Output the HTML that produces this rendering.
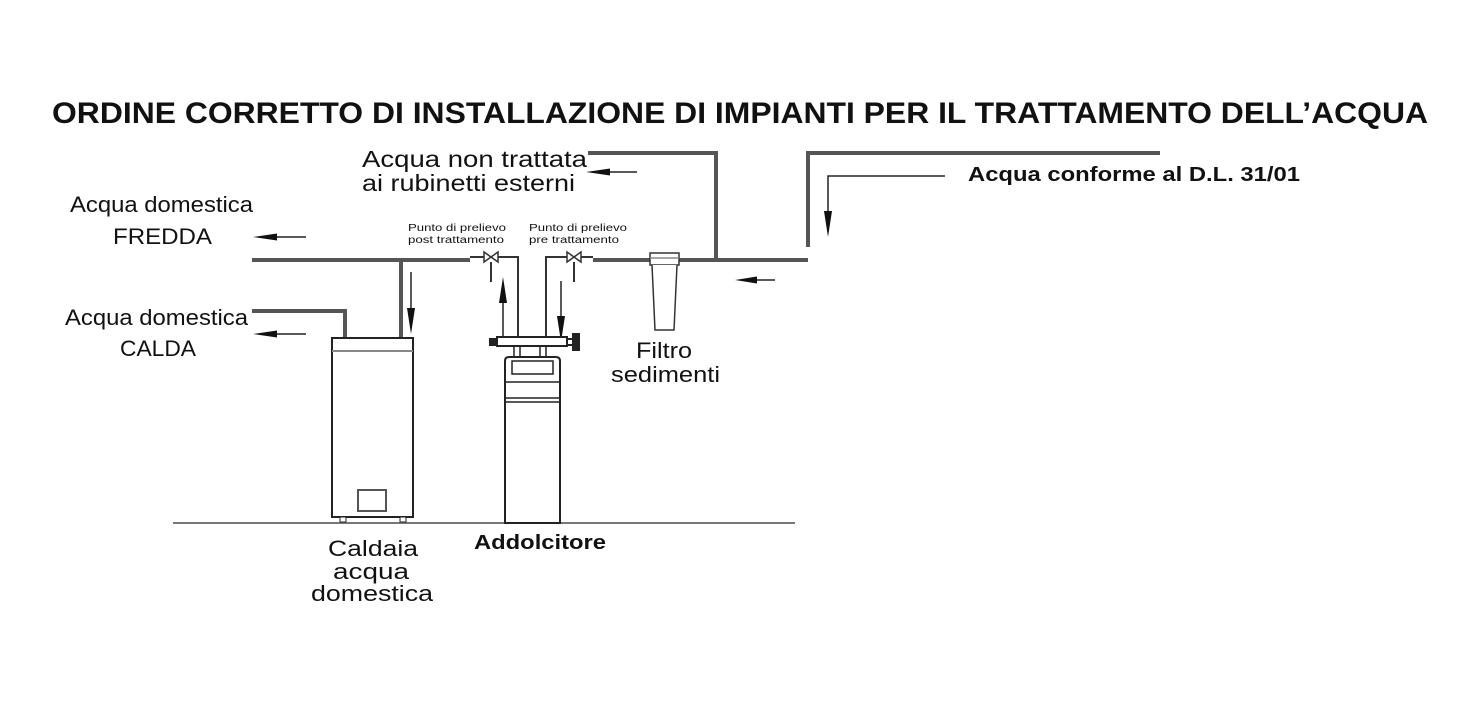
<!DOCTYPE html>
<html><head><meta charset="utf-8"><style>
html,body{margin:0;padding:0;background:#fff}
svg{display:block}
text{font-family:"Liberation Sans",Arial,sans-serif;fill:#111}
</style></head><body>
<svg width="1484" height="723" viewBox="0 0 1484 723" xmlns="http://www.w3.org/2000/svg">
<text x="740" y="123" font-size="30" font-weight="bold" text-anchor="middle" textLength="1376" lengthAdjust="spacingAndGlyphs">ORDINE CORRETTO DI INSTALLAZIONE DI IMPIANTI PER IL TRATTAMENTO DELL’ACQUA</text>

<!-- pipes -->
<g stroke="#555" stroke-width="4" fill="none">
<path d="M252 260 H470"/>
<path d="M593 260 H808"/>
<path d="M808 247 V153 H1160"/>
<path d="M716 260 V153 H588"/>
<path d="M252 311 H345 V338"/>
<path d="M401 260 V338"/>
</g>
<g stroke="#333" stroke-width="2" fill="none">
<path d="M470 257 H518 V338"/>
<path d="M593 257 H546 V338"/>
<path d="M491 262 V282"/>
<path d="M574 262 V282"/>
</g>
<!-- valves -->
<g stroke="#333" stroke-width="1.5" fill="#fff">
<path d="M484 252 L498 262 L498 252 L484 262 z"/>
<path d="M567 252 L581 262 L581 252 L567 262 z"/>
</g>

<!-- arrows -->
<g stroke="#222" stroke-width="1.5" fill="none">
<line x1="306" y1="237" x2="270" y2="237"/>
<line x1="306" y1="334" x2="270" y2="334"/>
<line x1="637" y1="172" x2="600" y2="172"/>
<line x1="775" y1="280" x2="750" y2="280"/>
<line x1="411" y1="272" x2="411" y2="312"/>
<line x1="503" y1="338" x2="503" y2="298"/>
<line x1="561" y1="281" x2="561" y2="320"/>
<path d="M945 176 H828 V215"/>
</g>
<g fill="#111">
<polygon points="253,237 277,233.5 277,240.5"/>
<polygon points="253,334 277,330.5 277,337.5"/>
<polygon points="586,172 610,168.5 610,175.5"/>
<polygon points="735,280 757,276.5 757,283.5"/>
<polygon points="411,334 407,308 415,308"/>
<polygon points="503,277 499,303 507,303"/>
<polygon points="561,342 557,316 565,316"/>
<polygon points="828,237 824,211 832,211"/>
</g>

<!-- floor -->
<line x1="173" y1="523" x2="795" y2="523" stroke="#777" stroke-width="2"/>

<!-- boiler -->
<g stroke="#222" stroke-width="2" fill="#fff">
<rect x="332" y="338" width="81" height="179"/>
<line x1="332" y1="351" x2="413" y2="351" stroke="#888"/>
<rect x="358" y="490" width="28" height="21" stroke="#555"/>
<rect x="340" y="517" width="6" height="5" stroke-width="1"/>
<rect x="400" y="517" width="6" height="5" stroke-width="1"/>
</g>

<!-- softener -->
<g stroke="#222" stroke-width="2" fill="#fff">
<rect x="514" y="345" width="6" height="12" stroke-width="1.5"/>
<rect x="540" y="345" width="6" height="12" stroke-width="1.5"/>
<rect x="497" y="337" width="70" height="9"/>
<rect x="490" y="339" width="7" height="6" fill="#222"/>
<rect x="567" y="339" width="6" height="6"/>
<rect x="573" y="334" width="6" height="16" fill="#222"/>
<path d="M505 523 V361 Q505 357 509 357 H556 Q560 357 560 361 V523 Z"/>
<rect x="512" y="361" width="41" height="13" stroke-width="1.5"/>
<line x1="505" y1="382" x2="560" y2="382" stroke-width="1.5"/>
<line x1="505" y1="398" x2="560" y2="398" stroke-width="1.5"/>
<line x1="505" y1="402" x2="560" y2="402" stroke-width="1.5"/>
</g>

<!-- filter -->
<g stroke="#333" stroke-width="1.5" fill="#fff">
<rect x="650" y="253" width="29" height="12"/>
<line x1="650" y1="258" x2="679" y2="258" stroke="#888"/>
<path d="M652 265 L655 330 H674 L677 265"/>
</g>

<!-- labels -->
<g font-size="22">
<text x="70" y="212" textLength="183" lengthAdjust="spacingAndGlyphs">Acqua domestica</text>
<text x="113" y="244" textLength="99" lengthAdjust="spacingAndGlyphs">FREDDA</text>
<text x="65" y="325" textLength="183" lengthAdjust="spacingAndGlyphs">Acqua domestica</text>
<text x="120" y="356" textLength="76" lengthAdjust="spacingAndGlyphs">CALDA</text>
<text x="362" y="167" font-size="23" textLength="225" lengthAdjust="spacingAndGlyphs">Acqua non trattata</text>
<text x="362" y="191" font-size="23" textLength="213" lengthAdjust="spacingAndGlyphs">ai rubinetti esterni</text>
<text x="636" y="358" textLength="56" lengthAdjust="spacingAndGlyphs">Filtro</text>
<text x="611" y="382" textLength="109" lengthAdjust="spacingAndGlyphs">sedimenti</text>
<text x="328" y="556" textLength="90" lengthAdjust="spacingAndGlyphs">Caldaia</text>
<text x="333" y="579" textLength="76" lengthAdjust="spacingAndGlyphs">acqua</text>
<text x="311" y="601" textLength="122" lengthAdjust="spacingAndGlyphs">domestica</text>
</g>
<text x="474" y="549" font-size="20" font-weight="bold" textLength="132" lengthAdjust="spacingAndGlyphs">Addolcitore</text>
<text x="968" y="181" font-size="20" font-weight="bold" textLength="332" lengthAdjust="spacingAndGlyphs">Acqua conforme al D.L. 31/01</text>
<g font-size="10">
<text x="408" y="231" textLength="98" lengthAdjust="spacingAndGlyphs">Punto di prelievo</text>
<text x="408" y="243" textLength="96" lengthAdjust="spacingAndGlyphs">post trattamento</text>
<text x="529" y="231" textLength="98" lengthAdjust="spacingAndGlyphs">Punto di prelievo</text>
<text x="529" y="243" textLength="90" lengthAdjust="spacingAndGlyphs">pre trattamento</text>
</g>
</svg>
</body></html>
